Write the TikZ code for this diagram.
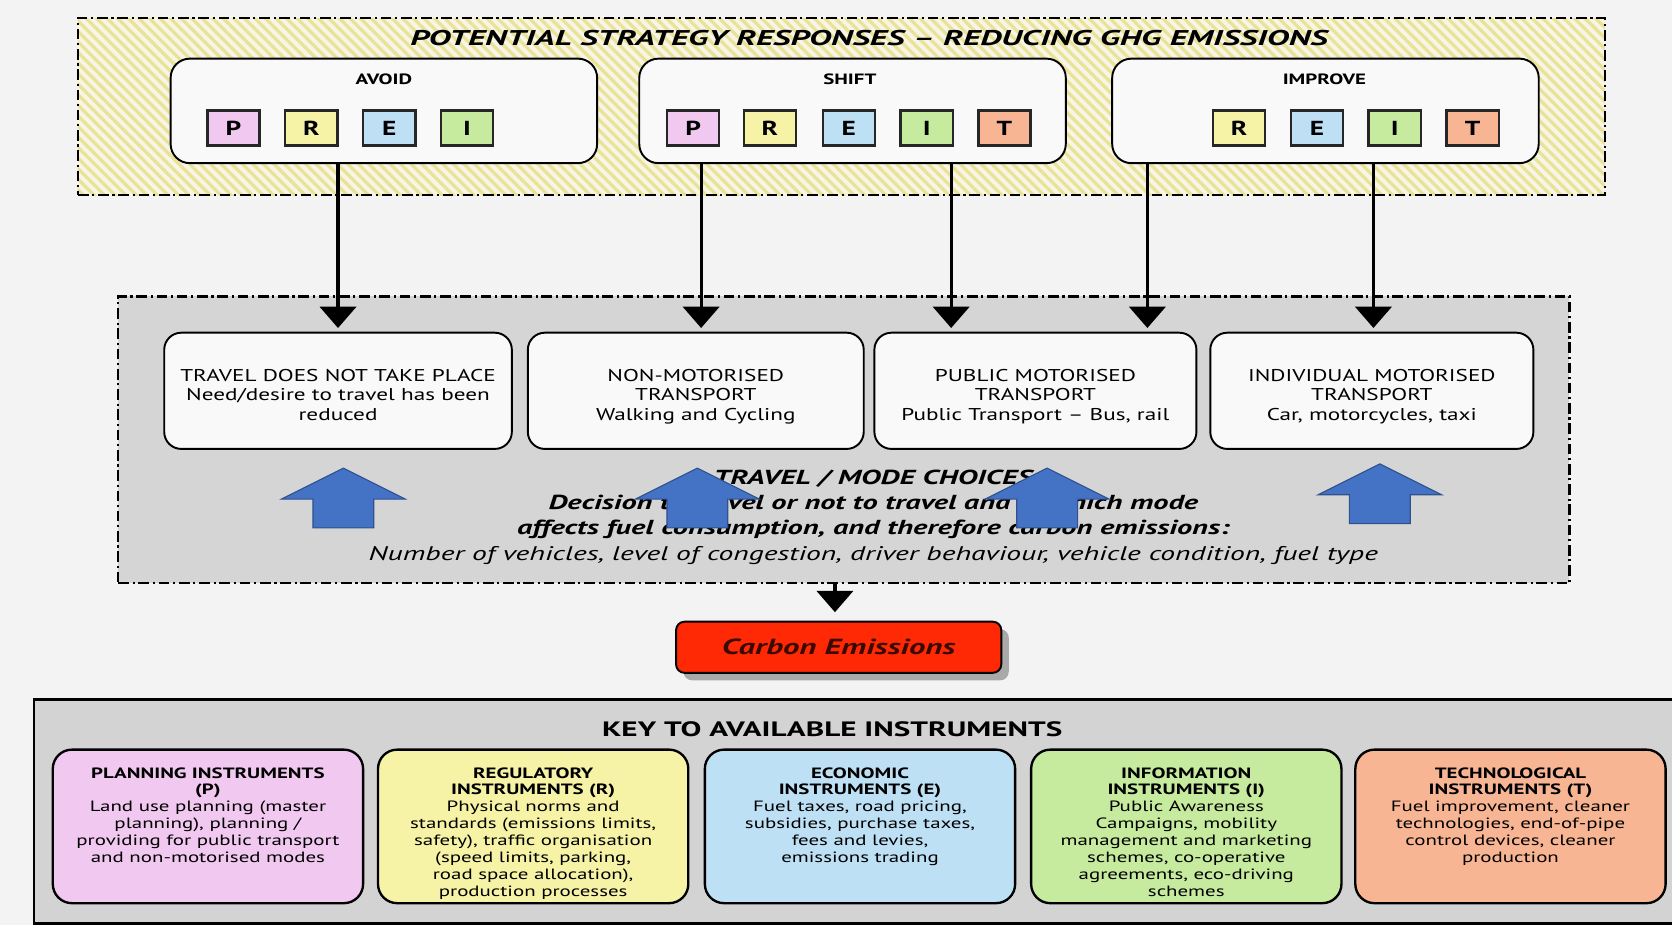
\documentclass[tikz,border=0pt]{standalone}
\usepackage{fontspec}
\setmainfont{PT Sans}
\newfontfamily\ftitle{PT Sans}[FakeStretch=1.6]
\newfontfamily\fmode{PT Sans}[FakeStretch=1.36]
\newfontfamily\fmid{PT Sans}[FakeStretch=1.5]
\newfontfamily\fkey{PT Sans}[FakeStretch=1.4]
\newfontfamily\flet{PT Sans}[FakeStretch=1.35]
\usetikzlibrary{arrows.meta,patterns.meta,shadows}
\definecolor{bg}{HTML}{F3F3F3}
\definecolor{hatchy}{HTML}{EAE296}
\definecolor{hatchbg}{HTML}{F7F6E6}
\definecolor{midgrey}{HTML}{D5D5D5}
\definecolor{keygrey}{HTML}{D3D3D3}
\definecolor{boxwhite}{HTML}{F9F9F9}
\definecolor{cP}{HTML}{F1C8EF}
\definecolor{cR}{HTML}{F6F2A6}
\definecolor{cE}{HTML}{BEE0F4}
\definecolor{cI}{HTML}{C6EA9E}
\definecolor{cT}{HTML}{F8B594}
\definecolor{blueA}{HTML}{4472C4}
\definecolor{blueB}{HTML}{2F528F}
\definecolor{carbonred}{HTML}{FF2A05}
\definecolor{carbontext}{HTML}{3A0A00}
\begin{document}
\begin{tikzpicture}[x=1pt,y=-1pt,
  dashdot/.style={draw=black, line width=2.2pt, dash pattern=on 10pt off 3.5pt on 2pt off 3.5pt},
  stratbox/.style={draw=black, line width=1.8pt, rounded corners=18pt, fill=boxwhite, minimum width=400pt, minimum height=98pt, inner sep=0pt},
  stlabel/.style={anchor=base, inner sep=0pt, font=\fkey\fontsize{14}{14}\selectfont\bfseries},
  letbox/.style={draw=black!85, line width=2.2pt, minimum width=49pt, minimum height=33pt, inner sep=0pt, font=\flet\fontsize{19}{19}\selectfont\bfseries},
  modebox/.style={draw=black, line width=1.8pt, rounded corners=16pt, fill=boxwhite, minimum height=109pt, inner sep=0pt},
  modetext/.style={anchor=north, align=center, inner sep=0pt, font=\fmode\fontsize{16}{18.3}\selectfont},
  blk/.style={line width=3pt, -{Triangle[width=34pt,length=20pt]}},
  keyb/.style={draw=black, line width=2.2pt, rounded corners=18pt, minimum width=291pt, minimum height=144pt, inner sep=0pt},
  keytext/.style={anchor=north, align=center, inner sep=0pt, font=\fkey\fontsize{14}{15.8}\selectfont},
  bluearrow/.style={fill=blueA, draw=blueB, line width=1pt},
  uparrow/.pic={\path[bluearrow] (0,0) -- (58,29) -- (28.5,29) -- (28.5,56) -- (-28.5,56) -- (-28.5,29) -- (-58,29) -- cycle;}
]
\fill[bg] (0,0) rectangle (1568,867);
\useasboundingbox (0,0) rectangle (1568,867);

% top strategy area
\node[dashdot, preaction={fill=hatchbg}, pattern={Lines[angle=-45,distance=7pt,line width=3pt]}, pattern color=hatchy, minimum width=1432pt, minimum height=166pt, inner sep=0pt] (topbox) at (789,100) {};
\node[anchor=base, inner sep=0pt, font=\ftitle\fontsize{20}{20}\selectfont\bfseries\itshape] (title) at (815,42.5) {POTENTIAL STRATEGY RESPONSES – REDUCING GHG EMISSIONS};

\node[stratbox] (avoid) at (360,104) {};
\node[stratbox] (shift) at (799.5,104) {};
\node[stratbox] (improve) at (1243,104) {};
\node[stlabel] (avoidlbl) at (360,79) {AVOID};
\node[stlabel] (shiftlbl) at (797,79) {SHIFT};
\node[stlabel] (improvelbl) at (1242,79) {IMPROVE};

\node[letbox, fill=cP] (aP) at (219,120) {P};
\node[letbox, fill=cR] (aR) at (292,120) {R};
\node[letbox, fill=cE] (aE) at (365,120) {E};
\node[letbox, fill=cI] (aI) at (438,120) {I};

\node[letbox, fill=cP] (sP) at (650,120) {P};
\node[letbox, fill=cR] (sR) at (722,120) {R};
\node[letbox, fill=cE] (sE) at (796,120) {E};
\node[letbox, fill=cI] (sI) at (869,120) {I};
\node[letbox, fill=cT] (sT) at (942,120) {T};

\node[letbox, fill=cR] (iR) at (1162,120) {R};
\node[letbox, fill=cE] (iE) at (1235,120) {E};
\node[letbox, fill=cI] (iI) at (1308,120) {I};
\node[letbox, fill=cT] (iT) at (1381,120) {T};

% middle area
\node[dashdot, fill=midgrey, minimum width=1361pt, minimum height=269pt, inner sep=0pt] (midbox) at (791.3,412.5) {};

\node[modebox, minimum width=326pt] (travel) at (317,366.5) {};
\node[modebox, minimum width=315pt] (nonmot) at (652.5,366.5) {};
\node[modebox, minimum width=302pt] (public) at (971,366.5) {};
\node[modebox, minimum width=303pt] (indiv) at (1286.5,366.5) {};

\node[modetext] (traveltxt) at (317,346) {TRAVEL DOES NOT TAKE PLACE\\Need/desire to travel has been\\reduced};
\node[modetext] (nonmottxt) at (652.5,346) {NON-MOTORISED\\TRANSPORT\\Walking and Cycling};
\node[modetext] (publictxt) at (971,346) {PUBLIC MOTORISED\\TRANSPORT\\Public Transport – Bus, rail};
\node[modetext] (indivtxt) at (1286.5,346) {INDIVIDUAL MOTORISED\\TRANSPORT\\Car, motorcycles, taxi};

\draw[blk, shorten >=3.5pt] (travel.north |- avoid.south) -- (travel.north);
\draw[blk, shorten >=3.5pt] ([xshift=5pt]nonmot.north |- shift.south) -- ([xshift=5pt]nonmot.north);
\draw[blk, shorten >=3.5pt] ([xshift=-79pt]public.north |- shift.south) -- ([xshift=-79pt]public.north);
\draw[blk, shorten >=3.5pt] ([xshift=105pt]public.north |- improve.south) -- ([xshift=105pt]public.north);
\draw[blk, shorten >=3.5pt] ([xshift=1.5pt]indiv.north |- improve.south) -- ([xshift=1.5pt]indiv.north);

\node[anchor=north, align=center, inner sep=0pt, font=\fmid\fontsize{19}{23.7}\selectfont\itshape] (midtxt) at (819,440.5)
  {{\bfseries TRAVEL / MODE CHOICES}\\{\bfseries Decision to travel or not to travel and in which mode}\\{\bfseries affects fuel consumption, and therefore carbon emissions:}\\{\fontsize{18.5}{23.7}\selectfont Number of vehicles, level of congestion, driver behaviour, vehicle condition, fuel type}};

\pic at (322,439) {uparrow};
\pic at (654,439) {uparrow};
\pic at (982,439) {uparrow};
\pic at (1294,435) {uparrow};

% carbon emissions
\node[draw=black, line width=1.8pt, fill=carbonred, rounded corners=8pt, minimum width=305pt, minimum height=48pt, inner sep=0pt,
  drop shadow={shadow xshift=7pt, shadow yshift=-7pt, opacity=0.3, fill=black},
  text=carbontext, font=\fmid\fontsize{20.5}{20.5}\selectfont\bfseries\itshape] (carbon) at (786.5,607) {Carbon Emissions};
\draw[blk, shorten >=8pt] ([xshift=-3.5pt]carbon.north |- midbox.south) -- ([xshift=-3.5pt]carbon.north);

% key
\node[draw=black, line width=2pt, fill=keygrey, minimum width=1560pt, minimum height=210pt, inner sep=0pt, anchor=north west] (keybox) at (31,655) {};
\node[anchor=base, inner sep=0pt, font=\fmid\fontsize{19.5}{19.5}\selectfont\bfseries] (keytitle) at (780.5,691) {KEY TO AVAILABLE INSTRUMENTS};

\node[keyb, fill=cP] (kP) at (195,775) {};
\node[keyb, fill=cR] (kR) at (500,775) {};
\node[keyb, fill=cE] (kE) at (806.5,775) {};
\node[keyb, fill=cI] (kI) at (1112.5,775) {};
\node[keyb, fill=cT] (kT) at (1416.5,775) {};

\node[keytext] (kPt) at (195,719.5) {{\bfseries PLANNING INSTRUMENTS}\\{\bfseries (P)}\\Land use planning (master\\planning), planning /\\providing for public transport\\and non-motorised modes};
\node[keytext] (kRt) at (500,719.5) {{\bfseries REGULATORY}\\{\bfseries INSTRUMENTS (R)}\\Physical norms and\\standards (emissions limits,\\safety), traffic organisation\\(speed limits, parking,\\road space allocation),\\production processes};
\node[keytext] (kEt) at (806.5,719.5) {{\bfseries ECONOMIC}\\{\bfseries INSTRUMENTS (E)}\\Fuel taxes, road pricing,\\subsidies, purchase taxes,\\fees and levies,\\emissions trading};
\node[keytext] (kIt) at (1112.5,719.5) {{\bfseries INFORMATION}\\{\bfseries INSTRUMENTS (I)}\\Public Awareness\\Campaigns, mobility\\management and marketing\\schemes, co-operative\\agreements, eco-driving\\schemes};
\node[keytext] (kTt) at (1416.5,719.5) {{\bfseries TECHNOLOGICAL}\\{\bfseries INSTRUMENTS (T)}\\Fuel improvement, cleaner\\technologies, end-of-pipe\\control devices, cleaner\\production};
\end{tikzpicture}
\end{document}
